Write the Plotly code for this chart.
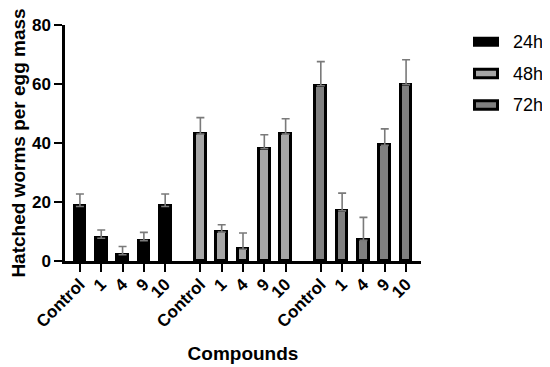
import plotly.graph_objects as go

# ---- data ----
compounds = ["Control", "1", "4", "9", "10"]
series_names = ["24h", "48h", "72h"]
values_24h = [18.5, 7.7, 2.1, 6.9, 18.5]
errors_24h = [4.2, 2.8, 2.8, 2.8, 4.2]
values_48h = [43.0, 9.8, 4.0, 38.1, 43.0]
errors_48h = [5.6, 2.5, 5.5, 4.7, 5.2]
values_72h = [59.4, 17.0, 7.0, 39.2, 59.8]
errors_72h = [8.2, 6.0, 7.8, 5.6, 8.4]
fill_colors = ["#000000", "#a6a6a6", "#808080"]

values = [values_24h, values_48h, values_72h]
errors = [errors_24h, errors_48h, errors_72h]

FONT = "Arial, 'Liberation Sans', sans-serif"
GROUP_STEP = len(compounds) + 0.65

# page offset of the figure (default body margin)
OFF = 8
W, H = 550, 367
# plot-area geometry in page pixels
L, R, T, B = 65, 421, 25, 261
def px(x):
    return (x - L) / (R - L)
def py(y):
    return (B - y) / (B - T)

fig = go.Figure()
tickvals, ticktext = [], []
for g, (name, vals, errs, col) in enumerate(zip(series_names, values, errors, fill_colors)):
    xs = [g * GROUP_STEP + i for i in range(len(compounds))]
    tickvals += xs
    ticktext += compounds
    fig.add_trace(go.Bar(
        x=xs, y=vals, name=name, width=0.5,
        marker=dict(color=col, line=dict(color="#000000", width=3)),
        error_y=dict(type="data", array=errs, arrayminus=[0] * len(errs),
                     symmetric=False, color="#7a7a7a", thickness=1.6, width=4),
        showlegend=False,
    ))

# manual legend
legend_y = [(38.2, 45.3), (69.2, 77.8), (100.7, 109.3)]
legend_text_y = [41.7, 73.5, 105.2]
shapes, annotations = [], []
for name, col, (y0, y1), ty in zip(series_names, fill_colors, legend_y, legend_text_y):
    shapes.append(dict(type="rect", xref="paper", yref="paper",
                       x0=px(474.5), x1=px(497.5), y0=py(y1), y1=py(y0),
                       fillcolor=col, line=dict(color="#000000", width=3)))
    annotations.append(dict(xref="paper", yref="paper", x=px(512), y=py(ty),
                            text=name, showarrow=False, xanchor="left", yanchor="middle",
                            borderpad=0,
                            font=dict(family=FONT, size=18, color="#000000")))

fig.update_layout(
    width=W, height=H,
    margin=dict(l=L - OFF, r=W - (R - OFF), t=T - OFF, b=H - (B - OFF)),
    paper_bgcolor="white", plot_bgcolor="white",
    bargap=0,
    shapes=shapes, annotations=annotations,
    font=dict(family=FONT, color="#000000"),
)
fig.update_xaxes(
    automargin=False,
    range=[-0.7, 2 * GROUP_STEP + len(compounds) - 1 + 0.7],
    tickvals=tickvals, ticktext=ticktext, tickangle=-45,
    tickfont=dict(family=FONT, size=17, color="#000000", weight="bold"),
    ticks="outside", ticklen=8, tickwidth=2, tickcolor="#000000",
    ticklabelstandoff=-4,
    showline=True, linecolor="#000000", linewidth=2.5,
    showgrid=False, zeroline=False,
    title=dict(text="<b>Compounds</b>", font=dict(family=FONT, size=19, color="#000000"), standoff=17),
)
fig.update_yaxes(
    automargin=False,
    range=[0, 80], tickvals=[0, 20, 40, 60, 80],
    tickfont=dict(family=FONT, size=17, color="#000000", weight="bold"),
    ticks="outside", ticklen=8, tickwidth=2, tickcolor="#000000",
    showline=True, linecolor="#000000", linewidth=2.5,
    showgrid=False, zeroline=False,
    title=dict(text="<b>Hatched worms per egg mass</b>", font=dict(family=FONT, size=19, color="#000000"), standoff=2),
)

fig.write_html("out.html")
